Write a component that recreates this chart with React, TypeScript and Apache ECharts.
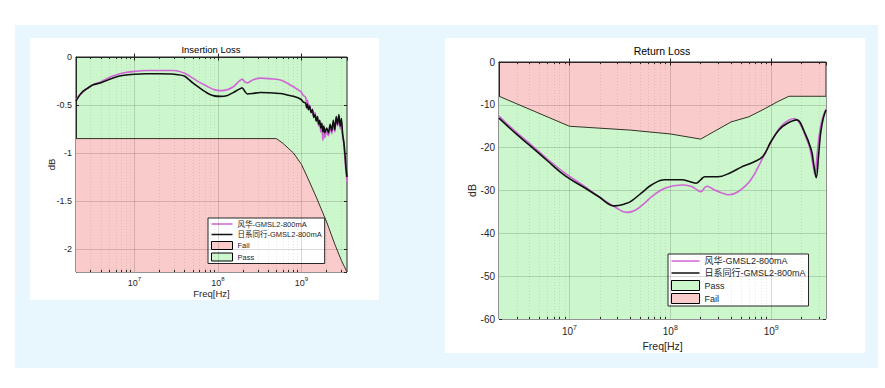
import React, { useEffect, useRef } from "react";
import * as echarts from "echarts";

const FONT = "'Liberation Sans', 'Noto Sans CJK SC', Arial, sans-serif";
const NAME_FH = "风华-GMSL2-800mA";
const NAME_RX = "日系同行-GMSL2-800mA";

const FREQ_MIN = 2e6;
const FREQ_MAX = 3.5e9;

// Insertion loss (dB) — 风华
const ilFenghua: [number, number][] = [
  [2e6, -0.45], [2.2e6, -0.4], [2.4e6, -0.37], [2.7e6, -0.33], [3.2e6, -0.29], [3.9e6, -0.26],
  [4.8e6, -0.22], [5.9e6, -0.19], [7.5e6, -0.165], [1e7, -0.15], [1.4e7, -0.14], [2e7, -0.14],
  [3e7, -0.14], [4e7, -0.17], [5e7, -0.22], [6.2e7, -0.27], [7.6e7, -0.31], [9e7, -0.34],
  [1.07e8, -0.35], [1.3e8, -0.34], [1.53e8, -0.31], [1.75e8, -0.26], [1.95e8, -0.23],
  [2.1e8, -0.26], [2.24e8, -0.27], [2.6e8, -0.24], [3.2e8, -0.22], [4.6e8, -0.23],
  [5.6e8, -0.24], [6.7e8, -0.27], [8e8, -0.31], [9.8e8, -0.36], [1.05e9, -0.4], [1.12e9, -0.42],
  [1.15e9, -0.48], [1.18e9, -0.45], [1.21e9, -0.53], [1.25e9, -0.5], [1.3e9, -0.57], [1.35e9, -0.54],
  [1.4e9, -0.62], [1.45e9, -0.58], [1.5e9, -0.66], [1.55e9, -0.63], [1.6e9, -0.72], [1.65e9, -0.68],
  [1.7e9, -0.78], [1.75e9, -0.72], [1.8e9, -0.87], [1.85e9, -0.76], [1.9e9, -0.84], [2e9, -0.78],
  [2.1e9, -0.82], [2.2e9, -0.74], [2.3e9, -0.8], [2.4e9, -0.7], [2.5e9, -0.78], [2.6e9, -0.63],
  [2.7e9, -0.72], [2.8e9, -0.62], [2.9e9, -0.75], [3.0e9, -0.66], [3.1e9, -0.82], [3.2e9, -0.9],
  [3.3e9, -1.05], [3.4e9, -1.2], [3.5e9, -1.3],
];

// Insertion loss (dB) — 日系同行
const ilRixi: [number, number][] = [
  [2e6, -0.46], [2.2e6, -0.4], [2.4e6, -0.36], [2.7e6, -0.33], [3.2e6, -0.29], [3.9e6, -0.27],
  [4.8e6, -0.24], [5.9e6, -0.21], [7.5e6, -0.19], [1e7, -0.18], [1.4e7, -0.175], [2e7, -0.175],
  [3e7, -0.18], [4e7, -0.2], [5e7, -0.27], [6.2e7, -0.33], [7.6e7, -0.38], [9e7, -0.405],
  [1.07e8, -0.41], [1.3e8, -0.4], [1.53e8, -0.37], [1.75e8, -0.34], [1.95e8, -0.32],
  [2.1e8, -0.36], [2.24e8, -0.385], [2.6e8, -0.38], [3.2e8, -0.37], [4.6e8, -0.375],
  [5.6e8, -0.38], [6.7e8, -0.395], [8e8, -0.41], [9.8e8, -0.44], [1.05e9, -0.47], [1.12e9, -0.48],
  [1.15e9, -0.53], [1.18e9, -0.49], [1.21e9, -0.55], [1.25e9, -0.51], [1.3e9, -0.58], [1.35e9, -0.55],
  [1.4e9, -0.63], [1.45e9, -0.6], [1.5e9, -0.67], [1.55e9, -0.62], [1.6e9, -0.7], [1.65e9, -0.66],
  [1.7e9, -0.74], [1.75e9, -0.69], [1.8e9, -0.78], [1.85e9, -0.72], [1.9e9, -0.79], [2e9, -0.74],
  [2.1e9, -0.79], [2.2e9, -0.7], [2.3e9, -0.77], [2.4e9, -0.66], [2.5e9, -0.76], [2.6e9, -0.62],
  [2.7e9, -0.7], [2.8e9, -0.6], [2.9e9, -0.72], [3.0e9, -0.64], [3.1e9, -0.8], [3.2e9, -0.88],
  [3.3e9, -1.0], [3.4e9, -1.15], [3.5e9, -1.25],
];

// Insertion loss limit (dB)
const ilLimit: [number, number][] = [
  [2e6, -0.85], [5e8, -0.85], [6e8, -0.9], [8e8, -1.0], [1e9, -1.12], [1.2e9, -1.27],
  [1.5e9, -1.46], [2e9, -1.72], [2.5e9, -1.95], [3e9, -2.12], [3.5e9, -2.24],
];

// Return loss (dB) — 风华
const rlFenghua: [number, number][] = [
  [2e6, -12.6], [3e6, -16.5], [4.2e6, -19.4], [6e6, -22.6], [9.1e6, -26], [1.4e7, -29],
  [1.94e7, -31.4], [2.8e7, -33.8], [3.7e7, -35.1], [4.5e7, -34.6], [5.6e7, -32.9], [6.5e7, -31.5],
  [8.8e7, -29.5], [1.3e8, -28.7], [1.6e8, -29.0], [1.75e8, -29.5], [2e8, -30.3], [2.3e8, -29.0],
  [2.75e8, -29.9], [3.2e8, -30.5], [3.8e8, -31], [4.7e8, -30.3], [6.3e8, -27.5], [8.3e8, -22.3],
  [1.07e9, -17.4], [1.3e9, -14.6], [1.7e9, -13.2], [2e9, -15.1], [2.2e9, -17.5], [2.4e9, -19.8],
  [2.6e9, -24], [2.72e9, -26.2], [2.85e9, -22], [3.0e9, -17], [3.2e9, -13.5], [3.5e9, -11],
];

// Return loss (dB) — 日系同行
const rlRixi: [number, number][] = [
  [2e6, -13.1], [3e6, -16.9], [4.2e6, -19.8], [6e6, -23], [9.1e6, -26.6], [1.4e7, -29.3],
  [1.94e7, -31.4], [2.8e7, -33.6], [3.7e7, -33], [4.1e7, -32.5], [5.6e7, -29.9], [6.5e7, -28.7],
  [8.8e7, -27.5], [1.3e8, -27.5], [1.6e8, -28], [1.8e8, -28.3], [2e8, -27.5], [2.2e8, -26.8],
  [2.96e8, -26.8], [4e8, -25.8], [5e8, -24.6], [6.8e8, -23.3], [8.3e8, -22], [1e9, -18.5],
  [1.2e9, -15.8], [1.45e9, -14.3], [1.8e9, -13.5], [2.1e9, -15.9], [2.5e9, -20.5], [2.65e9, -24],
  [2.8e9, -27], [2.95e9, -22], [3.1e9, -16.5], [3.3e9, -13], [3.5e9, -11.2],
];

// Return loss limit (dB)
const rlLimit: [number, number][] = [
  [2e6, -8], [1e7, -15], [4e7, -15.9], [1e8, -16.8], [2e8, -18], [4e8, -14], [6e8, -12.8],
  [8.5e8, -11], [1.15e9, -9.3], [1.5e9, -8], [3.5e9, -8],
];

const majorFreqs = [1e7, 1e8, 1e9];
const minorFreqs = [
  3e6, 4e6, 5e6, 6e6, 7e6, 8e6, 9e6,
  2e7, 3e7, 4e7, 5e7, 6e7, 7e7, 8e7, 9e7,
  2e8, 3e8, 4e8, 5e8, 6e8, 7e8, 8e8, 9e8,
  2e9, 3e9,
];
const ilYTicks = [-0.5, -1, -1.5, -2];
const rlYTicks = [-10, -20, -30, -40, -50];

const GREEN = "#ccf7cc";
const PINK = "#f9cbcb";
const MAGENTA = "#d066d6";
const BLACK = "#111111";
const LIMIT = "#333328";
const AXIS = "#262626";

function gridLines(yTicks: number[]) {
  return {
    type: "line",
    name: "__grid",
    data: [],
    z: 3,
    silent: true,
    markLine: {
      silent: true,
      symbol: ["none", "none"],
      label: { show: false },
      animation: false,
      data: [
        ...minorFreqs.map((f) => ({
          xAxis: f,
          lineStyle: { color: "rgba(0,0,0,0.09)", type: [1, 2], width: 1 },
        })),
        ...majorFreqs.map((f) => ({
          xAxis: f,
          lineStyle: { color: "rgba(0,0,0,0.15)", type: "solid", width: 1 },
        })),
        ...yTicks.map((v) => ({
          yAxis: v,
          lineStyle: { color: "rgba(0,0,0,0.15)", type: "solid", width: 1 },
        })),
      ],
    },
  };
}

// minor log ticks on bottom and top edges (inward)
function minorTicks(ymin: number, ymax: number, len: number) {
  const data: any[] = [];
  minorFreqs.forEach((f) => {
    data.push([{ coord: [f, ymin] }, { coord: [f, ymin + len] }]);
    data.push([{ coord: [f, ymax] }, { coord: [f, ymax - len] }]);
  });
  return {
    type: "line",
    name: "__ticks",
    data: [],
    z: 6,
    silent: true,
    markLine: {
      silent: true,
      symbol: ["none", "none"],
      label: { show: false },
      animation: false,
      lineStyle: { color: AXIS, type: "solid", width: 1 },
      data,
    },
  };
}

function xAxes(fs: number, margin: number, nameGap: number) {
  return [
    {
      type: "log",
      logBase: 10,
      min: FREQ_MIN,
      max: FREQ_MAX,
      name: "Freq[Hz]",
      nameLocation: "middle",
      nameGap,
      nameMoveOverlap: false,
      nameTextStyle: { fontSize: fs + 0.5, color: AXIS, fontFamily: FONT },
      axisLine: { show: true, lineStyle: { color: AXIS, width: 1 } },
      axisTick: { show: true, inside: true, length: 3.5, lineStyle: { color: AXIS } },
      splitLine: { show: false },
      axisLabel: {
        show: true,
        margin,
        showMinLabel: false,
        showMaxLabel: false,
        color: AXIS,
        fontFamily: FONT,
        formatter: (v: number) => {
          const e = Math.log10(v);
          const r = Math.round(e);
          if (Math.abs(e - r) > 1e-6) return "";
          return `{b|10}{s|${r}}`;
        },
        rich: {
          b: { fontSize: fs, lineHeight: 12, verticalAlign: "bottom", color: AXIS, fontFamily: FONT },
          s: { fontSize: fs - 3, lineHeight: 12, verticalAlign: "top", color: AXIS, fontFamily: FONT },
        },
      },
    },
    {
      type: "log",
      logBase: 10,
      min: FREQ_MIN,
      max: FREQ_MAX,
      position: "top",
      axisLine: { show: false },
      axisTick: { show: true, inside: true, length: 3.5, lineStyle: { color: AXIS } },
      axisLabel: { show: false },
      splitLine: { show: false },
    },
  ];
}

function yAxes(min: number, max: number, fs: number, nameGap: number, interval?: number) {
  const base: any = { type: "value", min, max };
  if (interval) base.interval = interval;
  else base.splitNumber = 5;
  return [
    {
      ...base,
      name: "dB",
      nameLocation: "middle",
      nameGap,
      nameMoveOverlap: false,
      nameTextStyle: { fontSize: fs + 0.5, color: AXIS, fontFamily: FONT },
      axisLine: { show: true, lineStyle: { color: AXIS, width: 1 } },
      axisTick: { show: true, inside: true, length: 3, lineStyle: { color: AXIS } },
      splitLine: { show: false },
      axisLabel: {
        margin: 4,
        fontSize: fs,
        color: AXIS,
        fontFamily: FONT,
        showMinLabel: !!interval,
        formatter: (v: number) => {
          const step = interval || 0.5;
          const k = v / step;
          if (Math.abs(k - Math.round(k)) > 1e-6) return "";
          return String(Math.round(v * 100) / 100);
        },
      },
    },
    {
      ...base,
      position: "right",
      axisLine: { show: false },
      axisTick: { show: true, inside: true, length: 3, lineStyle: { color: AXIS } },
      axisLabel: { show: false },
      splitLine: { show: false },
    },
  ];
}

function curve(name: string, data: [number, number][], color: string, smooth: number) {
  return {
    type: "line",
    name,
    data,
    z: 5,
    smooth,
    showSymbol: false,
    symbol: "none",
    lineStyle: { color, width: 1.6 },
    itemStyle: { color },
  };
}

// line-shaped legend icon: a thin bar in the middle of an iw x ih box
function lineIcon(iw: number, ih: number, t: number) {
  const y0 = ih / 2 - t / 2;
  const y1 = ih / 2 + t / 2;
  return `path://M0,0L0.01,0M0,${y0}L${iw},${y0}L${iw},${y1}L0,${y1}ZM${iw - 0.01},${ih}L${iw},${ih}`;
}

function legendCfg(left: number, top: number, fs: number, iw: number, ih: number, gap: number, order: string[]) {
  const rectItem = (name: string, color: string) => ({
    name,
    icon: "rect",
    itemStyle: { color, borderColor: "#000", borderWidth: 1 },
  });
  return {
    show: true,
    orient: "vertical",
    left,
    top,
    padding: [2, 3, 2, 3],
    itemGap: gap,
    itemWidth: iw,
    itemHeight: ih,
    backgroundColor: "#fff",
    borderColor: AXIS,
    borderWidth: 1,
    borderRadius: 0,
    selectedMode: false,
    textStyle: { fontSize: fs, color: AXIS, fontFamily: FONT },
    data: order.map((n) => {
      if (n === "Fail") return rectItem("Fail", PINK);
      if (n === "Pass") return rectItem("Pass", GREEN);
      const c = n === NAME_FH ? MAGENTA : BLACK;
      return { name: n, icon: lineIcon(iw, ih, 1.6), itemStyle: { color: c, borderWidth: 0 } };
    }),
  };
}

function leftOption(): any {
  return {
    animation: false,
    backgroundColor: "#fff",
    textStyle: { fontFamily: FONT },
    title: {
      text: "Insertion Loss",
      left: 181,
      top: 7,
      textAlign: "center",
      padding: 0,
      textStyle: { fontSize: 9.5, fontWeight: "normal", color: "#000", fontFamily: FONT },
    },
    grid: {
      left: 46, top: 19, width: 271, height: 215,
      show: true, backgroundColor: GREEN, borderColor: AXIS, borderWidth: 1,
      outerBoundsMode: "none",
    },
    legend: legendCfg(178, 180, 7.5, 21, 8, 2.5, [NAME_FH, NAME_RX, "Fail", "Pass"]),
    xAxis: xAxes(9, 4, 17),
    yAxis: yAxes(-2.24, 0, 9, 20),
    series: [
      {
        type: "line", name: "Fail", data: ilLimit, z: 2, showSymbol: false, symbol: "none",
        lineStyle: { color: LIMIT, width: 1 },
        itemStyle: { color: PINK },
        areaStyle: { color: PINK, opacity: 1, origin: "start" },
      },
      { type: "line", name: "Pass", data: [], itemStyle: { color: GREEN } },
      gridLines(ilYTicks),
      minorTicks(-2.24, 0, 0.022),
      curve(NAME_FH, ilFenghua, MAGENTA, 0.2),
      curve(NAME_RX, ilRixi, BLACK, 0.2),
    ],
  };
}

function rightOption(): any {
  return {
    animation: false,
    backgroundColor: "#fff",
    textStyle: { fontFamily: FONT },
    title: {
      text: "Return Loss",
      left: 217,
      top: 8,
      textAlign: "center",
      padding: 0,
      textStyle: { fontSize: 10.5, fontWeight: "normal", color: "#000", fontFamily: FONT },
    },
    grid: {
      left: 54, top: 24, width: 327, height: 257,
      show: true, backgroundColor: PINK, borderColor: AXIS, borderWidth: 1,
      outerBoundsMode: "none",
    },
    legend: legendCfg(223, 216, 9, 28, 10, 2, [NAME_FH, NAME_RX, "Pass", "Fail"]),
    xAxis: xAxes(10, 5, 22),
    yAxis: yAxes(-60, 0, 10, 22, 10),
    series: [
      {
        type: "line", name: "Pass", data: rlLimit, z: 2, showSymbol: false, symbol: "none",
        lineStyle: { color: LIMIT, width: 1 },
        itemStyle: { color: GREEN },
        areaStyle: { color: GREEN, opacity: 1, origin: "start" },
      },
      { type: "line", name: "Fail", data: [], itemStyle: { color: PINK } },
      gridLines(rlYTicks),
      minorTicks(-60, 0, 0.5),
      curve(NAME_FH, rlFenghua, MAGENTA, 0.4),
      curve(NAME_RX, rlRixi, BLACK, 0.4),
    ],
  };
}

function Chart({ option, style }: { option: any; style: React.CSSProperties }) {
  const ref = useRef<HTMLDivElement>(null);
  useEffect(() => {
    if (!ref.current) return;
    const chart = echarts.init(ref.current, undefined, { renderer: "svg" });
    chart.setOption(option);
    return () => chart.dispose();
  }, []);
  return <div ref={ref} style={style} />;
}

export default function App() {
  return (
    <div style={{ position: "fixed", left: 0, top: 0, width: 885, height: 388, background: "#fff", overflow: "hidden" }}>
      <div style={{ position: "absolute", left: 15, top: 25, width: 863, height: 343, background: "#e8f6fd" }} />
      <Chart option={leftOption()} style={{ position: "absolute", left: 30, top: 38, width: 349, height: 262 }} />
      <Chart option={rightOption()} style={{ position: "absolute", left: 445, top: 38, width: 420, height: 315 }} />
    </div>
  );
}
